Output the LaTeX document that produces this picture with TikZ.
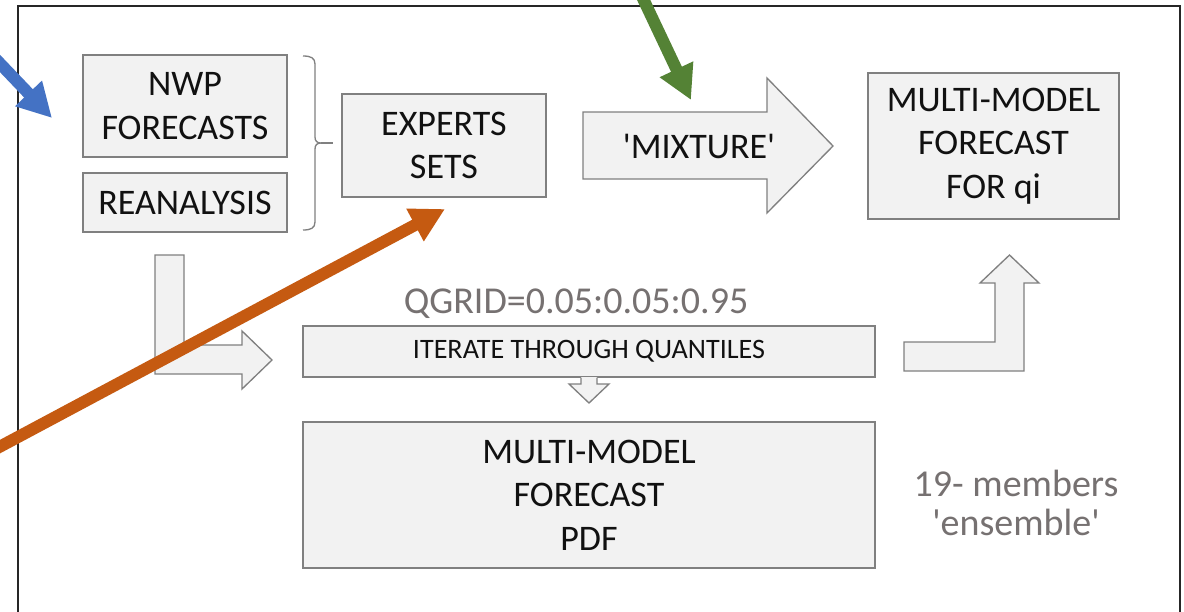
\documentclass[tikz,border=0pt]{standalone}
\usepackage{fontspec}
\setmainfont{Carlito}
\usetikzlibrary{arrows.meta}
\definecolor{boxfill}{HTML}{F2F2F2}
\definecolor{boxline}{HTML}{808080}
\definecolor{txtgray}{HTML}{767171}
\definecolor{txtdark}{HTML}{111111}
\definecolor{framecol}{HTML}{262626}
\definecolor{arrblue}{HTML}{4472C4}
\definecolor{arrorange}{HTML}{C55A11}
\definecolor{arrgreen}{HTML}{548235}
\begin{document}
\begin{tikzpicture}[x=0.75pt,y=-0.75pt,
  box/.style={draw=boxline, fill=boxfill, line width=1pt, inner sep=0pt, outer sep=0pt,
    align=center, text=txtdark, font=\fontsize{27}{32.5}\selectfont},
  blockarrow/.style={draw=boxline, fill=boxfill, line width=1pt, line join=miter},
  plaintext/.style={inner sep=0pt, align=center, text=txtdark, font=\fontsize{27}{32.5}\selectfont},
  graytext/.style={inner sep=0pt, align=center, text=txtgray},
  callout/.style={line width=9pt, -{Triangle[length=25.5pt,width=26pt]}},
  bracecol/.style={draw=boxline, line width=1pt}
]
\useasboundingbox (0,0) rectangle (1184,611);
\fill[white] (0,0) rectangle (1184,611);
% frame
\draw[framecol, line width=1.1pt] (18,640) -- (18,6) -- (1180,6) -- (1180,640);

% boxes
\node[box, minimum width=153pt, minimum height=76.5pt] (nwp) at (185,106) {NWP\\FORECASTS};
\node[box, minimum width=153pt, minimum height=44.25pt] (rea) at (185,202.5) {REANALYSIS};
\node[box, minimum width=153pt, minimum height=77.25pt] (exp) at (444,145.5) {EXPERTS\\SETS};
\node[box, minimum width=188.25pt, minimum height=109.5pt] (mmq) at (993.5,146) {MULTI-MODEL\\FORECAST\\FOR qi};
\node[box, minimum width=429pt, minimum height=38.25pt, font=\fontsize{21.1}{25}\selectfont] (iter) at (589,351.5) {ITERATE THROUGH QUANTILES};
\node[box, minimum width=429pt, minimum height=109.5pt] (pdf) at (589,495) {MULTI-MODEL\\FORECAST\\PDF};

% brace
\draw[bracecol] (303,56) .. controls (311,56) and (315,58) .. (315,64) -- (315,137)
  .. controls (315,141) and (317,143) .. (321,143)
  .. controls (317,143) and (315,145) .. (315,149) -- (315,222)
  .. controls (315,228) and (311,230) .. (303,230);
\draw[bracecol] (321,143) -- (333,143);

% mixture arrow
\draw[blockarrow] (583,112) -- (767,112) -- (767,78) -- (833,146) -- (767,213) -- (767,179) -- (583,179) -- cycle;
\node[plaintext] (mix) at (699,146) {\textquotesingle MIXTURE\textquotesingle};

% left bent arrow
\draw[blockarrow] (155,255) -- (184,255) -- (184,345) -- (242,345) -- (242,331) -- (272,360)
  -- (242,389) -- (242,374) -- (155,374) -- cycle;
% right bent arrow
\draw[blockarrow] (904,342) -- (995,342) -- (995,283) -- (980,283) -- (1009.5,255) -- (1039,283)
  -- (1024,283) -- (1024,371) -- (904,371) -- cycle;
% small down arrow
\fill[boxfill] (581,377) -- (581,384) -- (569,384) -- (589,403) -- (609,384) -- (597,384) -- (597,377) -- cycle;
\draw[boxline, line width=1pt, line join=miter] (581,377.5) -- (581,384) -- (569,384) -- (589,403) -- (609,384) -- (597,384) -- (597,377.5);

% gray texts
\node[graytext, font=\fontsize{28.5}{32}\selectfont] (qgrid) at (576,304) {QGRID=0.05:0.05:0.95};
\node[graytext, font=\fontsize{28.5}{29}\selectfont] (ens) at (1016,503) {19- members\\\textquotesingle ensemble\textquotesingle};

% callout arrows
\coordinate (bs) at (-10,53);
\coordinate (bt) at (52,118);
\coordinate (gs) at (638,-12);
\coordinate (gt) at (691,100);
\coordinate (os) at (-12,453);
\coordinate (ot) at (445,209);
\draw[callout, arrblue] (bs) -- (bt);
\draw[callout, arrgreen] (gs) -- (gt);
\draw[callout, arrorange] (os) -- (ot);
\end{tikzpicture}
\end{document}
